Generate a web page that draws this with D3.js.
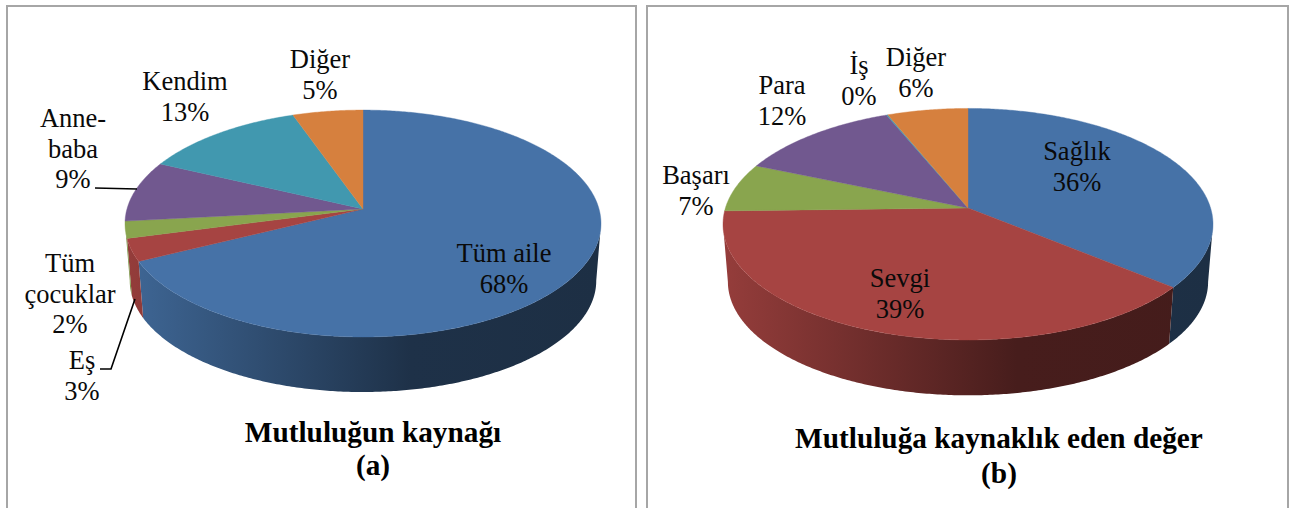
<!DOCTYPE html>
<html>
<head>
<meta charset="utf-8">
<script src="https://cdn.jsdelivr.net/npm/d3@7"></script>
<style>
  html, body { margin: 0; padding: 0; background: #fff; }
  svg { display: block; }
  .lbl { font-family: "Liberation Serif", serif; font-size: 26.5px; fill: #0a0a0a; text-anchor: middle; }
  .ttl { font-family: "Liberation Serif", serif; font-size: 29.3px; font-weight: bold; fill: #000; text-anchor: middle; }
  .leader { fill: none; stroke: #000; stroke-width: 1.6; }
  .frame { fill: none; stroke: #a6a6a6; stroke-width: 2; }
</style>
</head>
<body>
<div id="chart"></div>
<script>
// chart values, read from slice edges; each rounds to its printed percent
const namesA = ["Tüm aile", "Eş", "Tüm çocuklar", "Anne-baba", "Kendim", "Diğer"];
const valuesA = [67.7, 3.2, 2.4, 8.7, 12.6, 5.4];
const namesB = ["Sağlık", "Sevgi", "Başarı", "Para", "İş", "Diğer"];
const valuesB = [36, 38.6, 6.8, 12.4, 0.1, 6.1];   // İş is a hairline, rounds to 0%
const titleA = ["Mutluluğun kaynağı", "(a)"];
const titleB = ["Mutluluğa kaynaklık eden değer", "(b)"];

const colors = ["#4672a7", "#a64442", "#89a54e", "#71588f", "#4198af", "#d6803e"];

// layout: [center x, first baseline], lines per label
const labelsA = [
  { x: 504, y: 262, lines: ["Tüm aile"] },
  { x: 82, y: 369, lines: ["Eş"] },
  { x: 70, y: 272, lines: ["Tüm", "çocuklar"] },
  { x: 73, y: 127, lines: ["Anne-", "baba"] },
  { x: 185, y: 90, lines: ["Kendim"] },
  { x: 320, y: 68, lines: ["Diğer"] }
];
const labelsB = [
  { x: 1077, y: 160, lines: ["Sağlık"] },
  { x: 900, y: 287, lines: ["Sevgi"] },
  { x: 696, y: 184, lines: ["Başarı"] },
  { x: 782, y: 94, lines: ["Para"] },
  { x: 859, y: 74, lines: ["İş"] },
  { x: 916, y: 66, lines: ["Diğer"] }
];
const leadersA = [
  [[95, 188], [137, 189]],
  [[100, 369], [111, 369], [135, 299]]
];

const svg = d3.select("#chart").append("svg")
  .attr("width", 1291)
  .attr("height", 508);
const defs = svg.append("defs");

// panel frames run off the bottom of the picture
svg.append("path").attr("class", "frame").attr("d", "M7,508V6H636V508");
svg.append("path").attr("class", "frame").attr("d", "M647,508V6H1288V508");

const pie = d3.pie().sort(null).startAngle(0).endAngle(2 * Math.PI);
const line = d3.line();

function drawPie(id, values, opt) {
  const g = svg.append("g");
  const slices = pie(values);
  const left = opt.cx - opt.rx;
  const width = opt.rx * 2;

  // perspective disk: angle clockwise from the top -> screen point
  const R = opt.rx * Math.sqrt(1 - opt.k * opt.k);
  function project(a, scale, dy) {
    const w = 1 + opt.k * Math.cos(a);
    return [
      opt.cx + scale * R * Math.sin(a) / w,
      opt.cy + dy - scale * opt.ry * Math.cos(a) / w
    ];
  }
  function arcAngles(a0, a1) {
    const n = Math.max(2, Math.ceil((a1 - a0) / 0.01));
    return d3.range(n + 1).map(i => a0 + (a1 - a0) * i / n);
  }

  // only the front of the rim shows
  const frontA = Math.acos(-opt.k);
  const frontB = 2 * Math.PI - frontA;

  slices.forEach((d, i) => {
    const grad = defs.append("linearGradient")
      .attr("id", `${id}-side-${i}`)
      .attr("gradientUnits", "userSpaceOnUse")
      .attr("x1", left).attr("x2", left + width)
      .attr("y1", 0).attr("y2", 0);
    const c = d3.color(colors[i]);
    const shade = f => d3.rgb(c.r * f, c.g * f, c.b * f).formatHex();
    grad.append("stop").attr("offset", 0).attr("stop-color", shade(0.9));
    grad.append("stop").attr("offset", 0.6).attr("stop-color", shade(0.43));
    grad.append("stop").attr("offset", 1).attr("stop-color", shade(0.41));

    const a0 = Math.max(d.startAngle, frontA);
    const a1 = Math.min(d.endAngle, frontB);
    if (a1 <= a0) return;
    const ang = arcAngles(a0, a1);
    const pts = ang.map(a => project(a, 1, 0))
      .concat(ang.slice().reverse().map(a => project(a, opt.bottomScale, opt.drop)));
    g.append("path")
      .attr("d", line(pts) + "Z")
      .attr("fill", `url(#${id}-side-${i})`);
  });

  slices.forEach((d, i) => {
    const pts = [[opt.cx, opt.cy]].concat(arcAngles(d.startAngle, d.endAngle).map(a => project(a, 1, 0)));
    g.append("path")
      .attr("d", line(pts) + "Z")
      .attr("fill", colors[i])
      .attr("stroke", colors[i])
      .attr("stroke-width", 0.4);
  });
}

function drawLabels(values, labels) {
  labels.forEach((l, i) => {
    const rows = l.lines.concat([Math.round(values[i]) + "%"]);
    const t = svg.append("text").attr("class", "lbl");
    rows.forEach((r, j) => {
      t.append("tspan").attr("x", l.x).attr("y", l.y + j * 30.7).text(r);
    });
  });
}

function drawTitle(rows, x, y0, y1) {
  svg.append("text").attr("class", "ttl").attr("x", x).attr("y", y0).text(rows[0]);
  svg.append("text").attr("class", "ttl").attr("x", x).attr("y", y1).text(rows[1]);
}

drawPie("a", valuesA, { cx: 363, cy: 209, rx: 238, ry: 111.6, k: 0.128, drop: 57.6, bottomScale: 0.98 });
drawPie("b", valuesB, { cx: 968, cy: 208, rx: 245, ry: 113.5, k: 0.14, drop: 58, bottomScale: 0.98 });

leadersA.forEach(p => svg.append("path").attr("class", "leader").attr("d", line(p)));

drawLabels(valuesA, labelsA);
drawLabels(valuesB, labelsB);
drawTitle(titleA, 373, 442, 475);
drawTitle(titleB, 999, 448, 483);
</script>
</body>
</html>
